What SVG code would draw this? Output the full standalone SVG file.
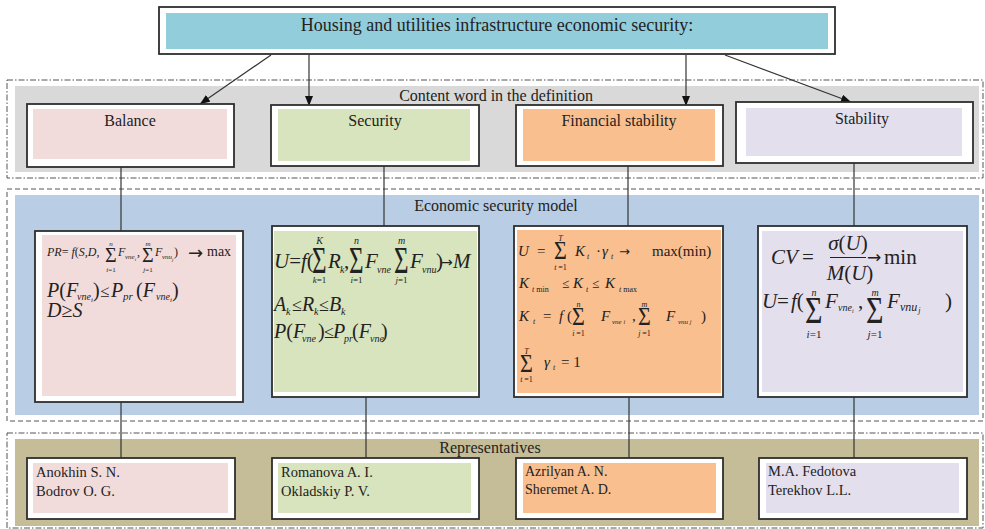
<svg xmlns="http://www.w3.org/2000/svg" width="985" height="529" viewBox="0 0 985 529">
  <style>
    .t { font-family: "Liberation Serif", "Times New Roman", serif; fill: #222; }
    .i { font-style: italic; }
    .h { font-size: 16px; }
    .arr { font-family: "DejaVu Sans", sans-serif; font-style: normal; }
    .frame { fill: #fff; stroke: #2e2e2e; stroke-width: 1.8; }
    .dd { fill: none; stroke: #555; stroke-width: 1; stroke-dasharray: 6 2 1.5 2; }
    .dash { fill: none; stroke: #555; stroke-width: 1; stroke-dasharray: 5 3; }
    .conn { fill: none; stroke: #333; stroke-width: 1.2; }
    .pink { fill: #f2dcdb; }
    .green { fill: #d7e4bd; }
    .orange { fill: #f9bf8f; }
    .lav { fill: #e4dfec; }
  </style>
  <defs>
    <marker id="head" viewBox="0 0 10 8" refX="10" refY="4" markerWidth="10" markerHeight="8" markerUnits="userSpaceOnUse" orient="auto">
      <path d="M0,0 L10,4 L0,8 z" fill="#111"/>
    </marker>
  </defs>

  <rect width="985" height="529" fill="#fff"/>

  <!-- section bands -->
  <g id="bands">
    <rect x="7" y="80" width="976" height="98" class="dd"/>
    <rect x="15" y="86" width="964" height="86" fill="#d9d9d9"/>
    <text x="496" y="101" text-anchor="middle" class="t h">Content word in the definition</text>

    <rect x="7" y="189" width="976" height="232" class="dash"/>
    <rect x="15" y="195" width="964" height="220" fill="#b9cde4"/>
    <text x="496" y="211" text-anchor="middle" class="t h">Economic security model</text>

    <rect x="7" y="433" width="976" height="95" class="dd"/>
    <rect x="15" y="439" width="964" height="87" fill="#c4bd97"/>
    <text x="490" y="453" text-anchor="middle" class="t h">Representatives</text>
  </g>

  <!-- connectors -->
  <g id="connectors">
    <line x1="271" y1="55" x2="200" y2="104" class="conn" marker-end="url(#head)"/>
    <line x1="309" y1="55" x2="309" y2="106" class="conn" marker-end="url(#head)"/>
    <line x1="686" y1="55" x2="686" y2="106" class="conn" marker-end="url(#head)"/>
    <line x1="725" y1="55" x2="851" y2="102" class="conn" marker-end="url(#head)"/>

    <line x1="121" y1="167" x2="121" y2="231" class="conn"/>
    <line x1="384" y1="166" x2="384" y2="226" class="conn"/>
    <line x1="628" y1="166" x2="628" y2="226" class="conn"/>
    <line x1="854" y1="163" x2="854" y2="226" class="conn"/>

    <line x1="121" y1="402" x2="121" y2="458" class="conn"/>
    <line x1="366" y1="397" x2="366" y2="458" class="conn"/>
    <line x1="629" y1="397" x2="629" y2="458" class="conn"/>
    <line x1="854" y1="397" x2="854" y2="458" class="conn"/>
  </g>

  <!-- title -->
  <g id="title">
    <rect x="159" y="7" width="676" height="47" class="frame"/>
    <rect x="166" y="13" width="662" height="36" fill="#92cddc"/>
    <text x="497" y="31" text-anchor="middle" class="t" font-size="18">Housing and utilities infrastructure economic security:</text>
  </g>

  <!-- content words -->
  <g id="balance">
    <rect x="27" y="104" width="207" height="63" class="frame"/>
    <rect x="33" y="109" width="194" height="50" class="pink"/>
    <text x="130" y="126" text-anchor="middle" class="t h">Balance</text>
  </g>
  <g id="security">
    <rect x="271" y="105" width="208" height="61" class="frame"/>
    <rect x="278" y="109" width="192" height="52" class="green"/>
    <text x="375" y="126" text-anchor="middle" class="t h">Security</text>
  </g>
  <g id="financial-stability">
    <rect x="516" y="105" width="207" height="61" class="frame"/>
    <rect x="523" y="109" width="192" height="52" class="orange"/>
    <text x="619" y="126" text-anchor="middle" class="t h">Financial stability</text>
  </g>
  <g id="stability">
    <rect x="736" y="102" width="237" height="61" class="frame"/>
    <rect x="746" y="108" width="216" height="48" class="lav"/>
    <text x="862" y="124" text-anchor="middle" class="t h">Stability</text>
  </g>

  <!-- model: balance -->
  <g id="model-balance" class="t">
    <rect x="35" y="231" width="208" height="171" class="frame"/>
    <rect x="42" y="235" width="194" height="161" class="pink"/>
    <text y="256" font-size="12"><tspan x="47" class="i">PR</tspan><tspan>= </tspan><tspan class="i">f</tspan><tspan>(</tspan><tspan class="i">S</tspan><tspan>,</tspan><tspan class="i">D</tspan><tspan>,</tspan></text>
    <text x="105" y="262" font-size="20">Σ</text>
    <text x="111" y="246" font-size="7" text-anchor="middle" class="i">n</text>
    <text x="111" y="272" font-size="7" text-anchor="middle"><tspan class="i">i</tspan>=1</text>
    <text x="118" y="256" font-size="12" class="i">F</text>
    <text x="125" y="259" font-size="7" class="i">vne<tspan font-size="5" dy="1.5">i</tspan></text>
    <text x="137" y="256" font-size="12">,</text>
    <text x="142" y="262" font-size="20">Σ</text>
    <text x="148" y="246" font-size="7" text-anchor="middle" class="i">m</text>
    <text x="148" y="272" font-size="7" text-anchor="middle"><tspan class="i">j</tspan>=1</text>
    <text x="155" y="256" font-size="12" class="i">F</text>
    <text x="162" y="259" font-size="7" class="i">vnu<tspan font-size="5" dy="1.5">j</tspan></text>
    <text x="174" y="256" font-size="12">)</text>
    <text x="188" y="259" font-size="18" class="arr">→</text>
    <text x="207" y="256" font-size="14">max</text>

    <text y="297" font-size="20"><tspan x="47" class="i">P</tspan><tspan>(</tspan><tspan class="i">F</tspan></text>
    <text x="77" y="300" font-size="10" class="i">vne<tspan font-size="7" dy="2">i</tspan></text>
    <text x="93" y="297" font-size="20">)</text>
    <text x="100" y="297" font-size="17">≤</text>
    <text x="111" y="297" font-size="20" class="i">P</text>
    <text x="123" y="300" font-size="11" class="i">pr</text>
    <text x="136" y="297" font-size="20">(<tspan class="i">F</tspan></text>
    <text x="156" y="300" font-size="10" class="i">vne<tspan font-size="7" dy="2">i</tspan></text>
    <text x="172" y="297" font-size="20">)</text>

    <text y="317" font-size="20"><tspan x="47" class="i">D</tspan><tspan>≥</tspan><tspan class="i">S</tspan></text>
  </g>

  <!-- model: security -->
  <g id="model-security" class="t">
    <rect x="272" y="226" width="207" height="171" class="frame"/>
    <rect x="274" y="231" width="203" height="161" class="green"/>
    <text y="268" font-size="21"><tspan x="274" class="i">U</tspan><tspan>=</tspan><tspan class="i">f</tspan><tspan>(</tspan></text>
    <text transform="translate(312,273) scale(1,1.55)" font-size="25">Σ</text>
    <text x="319.5" y="244" font-size="10" text-anchor="middle" class="i">K</text>
    <text x="319.5" y="283" font-size="9" text-anchor="middle"><tspan class="i">k</tspan>=1</text>
    <text x="328" y="268" font-size="21" class="i">R</text>
    <text x="340" y="273" font-size="10" class="i">k</text>
    <text x="344" y="268" font-size="21">,</text>
    <text transform="translate(349,273) scale(1,1.55)" font-size="25">Σ</text>
    <text x="356.5" y="244" font-size="10" text-anchor="middle" class="i">n</text>
    <text x="356.5" y="283" font-size="9" text-anchor="middle"><tspan class="i">i</tspan>=1</text>
    <text x="365" y="268" font-size="21" class="i">F</text>
    <text x="377" y="273" font-size="10" class="i">vne</text>
    <text transform="translate(394,273) scale(1,1.55)" font-size="25">Σ</text>
    <text x="401.5" y="244" font-size="10" text-anchor="middle" class="i">m</text>
    <text x="401.5" y="283" font-size="9" text-anchor="middle"><tspan class="i">j</tspan>=1</text>
    <text x="410" y="268" font-size="21" class="i">F</text>
    <text x="422" y="273" font-size="10" class="i">vnu</text>
    <text x="436" y="268" font-size="21">)</text>
    <text x="441" y="267" font-size="14" class="arr">→</text>
    <text x="453" y="268" font-size="21" class="i">M</text>

    <text x="274" y="311" font-size="20" class="i">A</text>
    <text x="286" y="315" font-size="10" class="i">k</text>
    <text x="292" y="311" font-size="18">≤</text>
    <text x="302" y="311" font-size="20" class="i">R</text>
    <text x="314" y="315" font-size="10" class="i">k</text>
    <text x="319" y="311" font-size="18">≤</text>
    <text x="329" y="311" font-size="20" class="i">B</text>
    <text x="341" y="315" font-size="10" class="i">k</text>

    <text y="338" font-size="20"><tspan x="274" class="i">P</tspan><tspan>(</tspan><tspan class="i">F</tspan></text>
    <text x="302" y="342" font-size="10" class="i">vne</text>
    <text x="318" y="338" font-size="20">)</text>
    <text x="324" y="338" font-size="18">≤</text>
    <text x="333" y="338" font-size="20" class="i">P</text>
    <text x="344" y="342" font-size="10" class="i">pr</text>
    <text x="352" y="338" font-size="20">(<tspan class="i">F</tspan></text>
    <text x="370" y="342" font-size="10" class="i">vne</text>
    <text x="381" y="338" font-size="20">)</text>
  </g>

  <!-- model: financial stability -->
  <g id="model-financial" class="t">
    <rect x="514" y="226" width="209" height="171" class="frame"/>
    <rect x="517" y="230" width="204" height="163" class="orange"/>
    <text x="518" y="256" font-size="15" class="i">U</text>
    <text x="537" y="256" font-size="15">=</text>
    <text transform="translate(554,259) scale(1,1.15)" font-size="22">Σ</text>
    <text x="560.5" y="241" font-size="8" text-anchor="middle" class="i">T</text>
    <text x="560.5" y="270" font-size="8" text-anchor="middle"><tspan class="i">t</tspan> =1</text>
    <text x="575" y="256" font-size="15" class="i">K</text>
    <text x="587" y="259" font-size="8" class="i">t</text>
    <text x="596" y="256" font-size="15">·</text>
    <text x="602" y="256" font-size="15" class="i">γ</text>
    <text x="611" y="259" font-size="8" class="i">t</text>
    <text x="619" y="256" font-size="13" class="arr">→</text>
    <text x="652" y="256" font-size="15">max(min)</text>

    <text x="519" y="288" font-size="15" class="i">K</text>
    <text x="532" y="292" font-size="8"><tspan class="i">t</tspan> min</text>
    <text x="562" y="288" font-size="13">≤</text>
    <text x="573" y="288" font-size="15" class="i">K</text>
    <text x="586" y="292" font-size="8" class="i">t</text>
    <text x="592" y="288" font-size="13">≤</text>
    <text x="605" y="288" font-size="15" class="i">K</text>
    <text x="619" y="292" font-size="8"><tspan class="i">t</tspan> max</text>

    <text x="519" y="321" font-size="15" class="i">K</text>
    <text x="533" y="324" font-size="8" class="i">t</text>
    <text x="543" y="321" font-size="15">=</text>
    <text x="559" y="321" font-size="15"><tspan class="i">f</tspan> (</text>
    <text transform="translate(572,325) scale(1,1.15)" font-size="22">Σ</text>
    <text x="578.5" y="307" font-size="8" text-anchor="middle" class="i">n</text>
    <text x="578.5" y="336" font-size="8" text-anchor="middle"><tspan class="i">i</tspan> =1</text>
    <text x="601" y="321" font-size="15" class="i">F</text>
    <text x="612" y="324" font-size="7" class="i">vne <tspan font-size="6">i</tspan></text>
    <text x="632" y="321" font-size="15">,</text>
    <text transform="translate(638,325) scale(1,1.15)" font-size="22">Σ</text>
    <text x="644.5" y="307" font-size="8" text-anchor="middle" class="i">m</text>
    <text x="644.5" y="336" font-size="8" text-anchor="middle"><tspan class="i">j</tspan> =1</text>
    <text x="666" y="321" font-size="15" class="i">F</text>
    <text x="678" y="324" font-size="7" class="i">vnu <tspan font-size="6">j</tspan></text>
    <text x="701" y="321" font-size="15">)</text>

    <text transform="translate(520,372) scale(1,1.15)" font-size="22">Σ</text>
    <text x="526.5" y="354" font-size="8" text-anchor="middle" class="i">T</text>
    <text x="526.5" y="382" font-size="8" text-anchor="middle"><tspan class="i">t</tspan> =1</text>
    <text x="544" y="367" font-size="15" class="i">γ</text>
    <text x="553" y="370" font-size="8" class="i">t</text>
    <text x="561" y="367" font-size="15">= 1</text>
  </g>

  <!-- model: stability -->
  <g id="model-stability" class="t">
    <rect x="758" y="226" width="209" height="171" class="frame"/>
    <rect x="762" y="231" width="201" height="161" class="lav"/>
    <text x="771" y="264" font-size="21" class="i">CV</text>
    <text x="802" y="264" font-size="21">=</text>
    <text x="848" y="250" font-size="21" text-anchor="middle"><tspan class="i">σ</tspan>(<tspan class="i">U</tspan>)</text>
    <line x1="830" y1="257.5" x2="866" y2="257.5" stroke="#222" stroke-width="1"/>
    <text x="850" y="280" font-size="21" text-anchor="middle"><tspan class="i">M</tspan>(<tspan class="i">U</tspan>)</text>
    <text x="867" y="263" font-size="17" class="arr">→</text>
    <text x="884" y="264" font-size="21">min</text>

    <text x="762" y="308" font-size="21" class="i">U</text>
    <text x="777" y="308" font-size="21">=</text>
    <text x="791" y="308" font-size="21"><tspan class="i">f</tspan>(</text>
    <text transform="translate(805,323) scale(1,1.25)" font-size="30">Σ</text>
    <text x="814" y="296" font-size="10" text-anchor="middle" class="i">n</text>
    <text x="814" y="338" font-size="11" text-anchor="middle"><tspan class="i">i</tspan>=1</text>
    <text x="825" y="308" font-size="21" class="i">F</text>
    <text x="838" y="311" font-size="10" class="i">vne<tspan font-size="6" dy="2">i</tspan></text>
    <text x="858" y="308" font-size="21">,</text>
    <text transform="translate(866,323) scale(1,1.25)" font-size="30">Σ</text>
    <text x="875" y="296" font-size="10" text-anchor="middle" class="i">m</text>
    <text x="875" y="338" font-size="11" text-anchor="middle"><tspan class="i">j</tspan>=1</text>
    <text x="887" y="308" font-size="21" class="i">F</text>
    <text x="900" y="311" font-size="12" class="i">vnu<tspan font-size="8" dy="2" dx="1">j</tspan></text>
    <text x="945" y="308" font-size="21">)</text>
  </g>

  <!-- representatives -->
  <g id="rep-balance" class="t">
    <rect x="27" y="458" width="208" height="61" class="frame"/>
    <rect x="33" y="463" width="195" height="50" class="pink"/>
    <text x="36" y="477" font-size="14.5">Anokhin S. N.</text>
    <text x="36" y="496" font-size="14.5">Bodrov O. G.</text>
  </g>
  <g id="rep-security" class="t">
    <rect x="272" y="458" width="207" height="61" class="frame"/>
    <rect x="278" y="463" width="193" height="50" class="green"/>
    <text x="281" y="477" font-size="14.5">Romanova A. I.</text>
    <text x="281" y="496" font-size="14.5">Okladskiy P. V.</text>
  </g>
  <g id="rep-financial" class="t">
    <rect x="516" y="458" width="207" height="61" class="frame"/>
    <rect x="523" y="463" width="193" height="50" class="orange"/>
    <text x="525" y="476" font-size="14">Azrilyan A. N.</text>
    <text x="525" y="494" font-size="14">Sheremet A. D.</text>
  </g>
  <g id="rep-stability" class="t">
    <rect x="759" y="458" width="208" height="61" class="frame"/>
    <rect x="766" y="463" width="193" height="50" class="lav"/>
    <text x="768" y="476" font-size="14.5">M.A. Fedotova</text>
    <text x="768" y="495" font-size="14.5">Terekhov L.L.</text>
  </g>
</svg>
